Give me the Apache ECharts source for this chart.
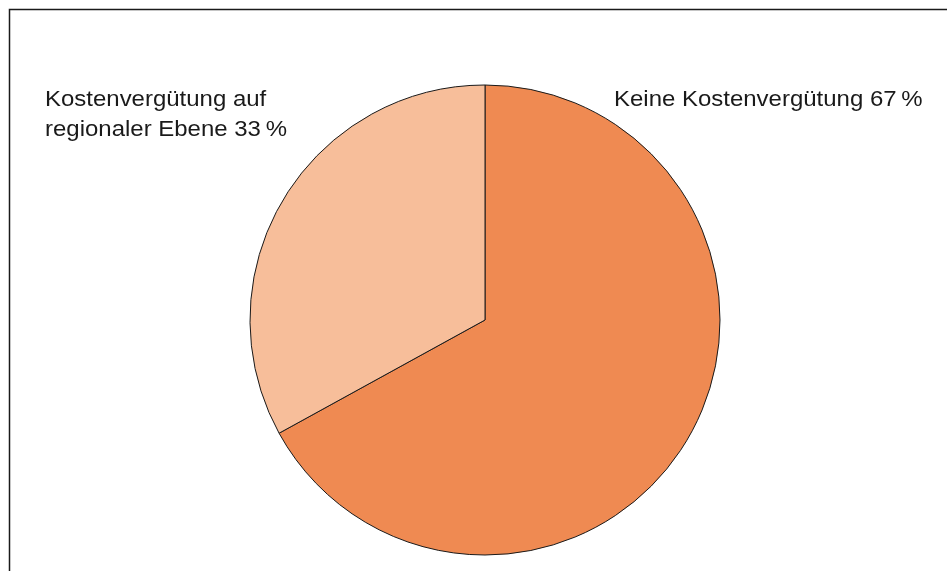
<!DOCTYPE html>
<html><head><meta charset="utf-8">
<script src="https://cdn.jsdelivr.net/npm/echarts@6/dist/echarts.min.js"></script>
<style>html,body{margin:0;padding:0;background:#fff}#c{width:947px;height:571px}</style>
</head><body><div id="c"></div>
<script>
const categories = ["Keine Kostenvergütung", "Kostenvergütung auf\nregionaler Ebene"];
const values = [67, 33];
const colors = ["#EF8A52", "#F7BE9A"];

const chart = echarts.init(document.getElementById('c'), null, {renderer: 'canvas'});
const lbl = (i) => categories[i] + " " + values[i] + "\u2009%";
const font = '21.5px "Liberation Sans", Arial, sans-serif';
chart.setOption({
  animation: false,
  backgroundColor: '#fff',
  graphic: [
    {type: 'rect', shape: {x: 9.5, y: 9.5, width: 1200, height: 1200}, style: {fill: 'none', stroke: '#1a1a1a', lineWidth: 1.5}, silent: true},
    {type: 'text', x: 614, y: 85, scaleX: 1.115, style: {text: lbl(0), font: font, fill: '#1a1a1a', lineHeight: 30, verticalAlign: 'top'}},
    {type: 'text', x: 45, y: 85, scaleX: 1.115, style: {text: lbl(1), font: font, fill: '#1a1a1a', lineHeight: 30, verticalAlign: 'top'}}
  ],
  series: [{
    type: 'pie',
    center: [485, 320],
    radius: [0, 235],
    startAngle: 90,
    clockwise: true,
    label: {show: false},
    labelLine: {show: false},
    itemStyle: {borderColor: '#1a1a1a', borderWidth: 1},
    data: categories.map((c, i) => ({name: c, value: values[i], itemStyle: {color: colors[i]}}))
  }]
});
</script></body></html>
